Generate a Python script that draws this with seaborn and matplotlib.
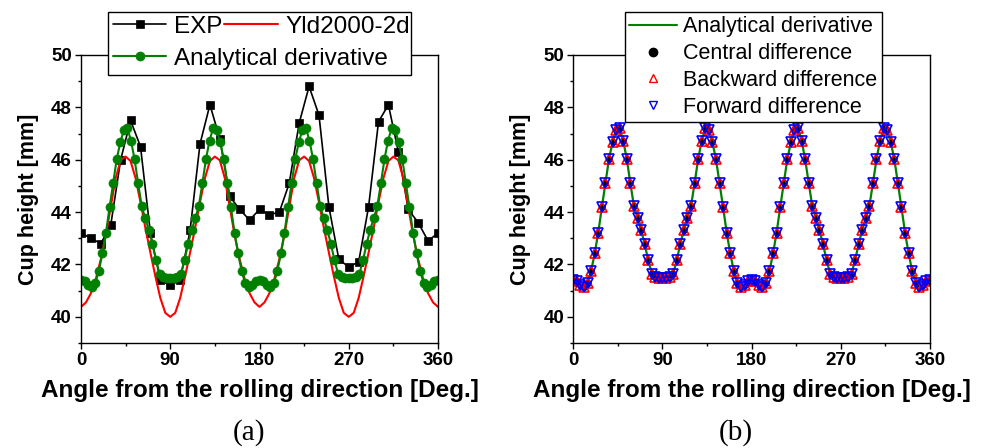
import matplotlib
matplotlib.use('Agg')
import matplotlib.pyplot as plt
import matplotlib.ticker as ticker
from matplotlib.lines import Line2D
from matplotlib.patches import Rectangle
import numpy as np
import seaborn as sns

# experiment, every 10 deg
angle_exp = [0, 10, 20, 30, 40, 50, 60, 70, 80, 90, 100, 110, 120, 130, 140, 150, 160, 170, 180,
             190, 200, 210, 220, 230, 240, 250, 260, 270, 280, 290, 300, 310, 320, 330, 340, 350, 360]
cup_exp = [43.2, 43.0, 42.8, 43.5, 46.0, 47.5, 46.5, 43.2, 41.4, 41.2, 41.4, 43.3, 46.6, 48.1, 46.8, 44.6, 44.1, 43.7, 44.1,
           43.9, 44.0, 45.1, 47.4, 48.8, 47.7, 44.2, 42.2, 41.9, 42.1, 44.2, 47.45, 48.1, 46.3, 44.1, 43.6, 42.9, 43.2]

# Yld2000-2d curve, every 5 deg
angle_yld = list(range(0, 361, 5))
cup_yld = [40.38, 40.55, 40.90, 41.45, 42.20, 43.10, 44.20, 45.30, 45.98, 46.12, 45.95, 45.30, 44.38, 43.38, 42.45, 41.55, 40.72, 40.15, 40.00,
           40.15, 40.72, 41.55, 42.45, 43.38, 44.38, 45.30, 45.95, 46.12, 45.98, 45.30, 44.20, 43.10, 42.20, 41.45, 40.90, 40.55, 40.38,
           40.55, 40.90, 41.45, 42.20, 43.10, 44.20, 45.30, 45.98, 46.12, 45.95, 45.30, 44.38, 43.38, 42.45, 41.55, 40.72, 40.15, 40.00,
           40.15, 40.72, 41.55, 42.45, 43.38, 44.38, 45.30, 45.95, 46.12, 45.98, 45.30, 44.20, 43.10, 42.20, 41.45, 40.90, 40.55, 40.38]

# FE results, 3.6 deg steps
angle_fe = np.linspace(0, 360, 101)
cup_analytical = [41.40, 41.35, 41.22, 41.12, 41.28, 41.75, 42.42, 43.22, 44.18, 45.10, 46.02, 46.66, 47.12, 47.20, 46.73, 46.02, 45.10,
                  44.23, 43.76, 43.32, 42.78, 42.17, 41.65, 41.52, 41.48, 41.48,
                  41.48, 41.52, 41.65, 42.17, 42.78, 43.32, 43.76, 44.23, 45.10, 46.02, 46.73, 47.20, 47.12, 46.66, 46.02, 45.10,
                  44.18, 43.22, 42.42, 41.75, 41.28, 41.12, 41.22, 41.35, 41.40,
                  41.35, 41.22, 41.12, 41.28, 41.75, 42.42, 43.22, 44.18, 45.10, 46.02, 46.66, 47.12, 47.20, 46.73, 46.02, 45.10,
                  44.23, 43.76, 43.32, 42.78, 42.17, 41.65, 41.52, 41.48, 41.48,
                  41.48, 41.52, 41.65, 42.17, 42.78, 43.32, 43.76, 44.23, 45.10, 46.02, 46.73, 47.20, 47.12, 46.66, 46.02, 45.10,
                  44.18, 43.22, 42.42, 41.75, 41.28, 41.12, 41.22, 41.35, 41.40]
# finite differences lie on top of the analytical one
cup_central = list(cup_analytical)
cup_backward = list(cup_analytical)
cup_forward = list(cup_analytical)

sns.set_style('ticks', {'axes.edgecolor': 'black', 'xtick.color': 'black', 'ytick.color': 'black',
                        'text.color': 'black', 'axes.labelcolor': 'black'})
plt.rcParams['font.family'] = ['Liberation Sans', 'DejaVu Sans']

W, H = 986, 448
fig = plt.figure(figsize=(W / 100, H / 100), dpi=100)
ax_a = fig.add_axes([81 / W, 105 / H, 357 / W, 288 / H])
ax_b = fig.add_axes([573.3 / W, 105 / H, 356.7 / W, 288 / H])

# (a)
sns.lineplot(x=angle_exp, y=cup_exp, ax=ax_a, color='black', lw=1.2, marker='s', markersize=5.5,
             markeredgecolor='black', markeredgewidth=0.5)
sns.lineplot(x=angle_yld, y=cup_yld, ax=ax_a, color='red', lw=1.5)
sns.lineplot(x=angle_fe, y=cup_analytical, ax=ax_a, color='green', lw=1.5, marker='o', markersize=6.5,
             markeredgecolor='green', markeredgewidth=0.5)
h_exp, h_yld, h_ana = ax_a.lines[:3]

# (b)
sns.lineplot(x=angle_fe, y=cup_analytical, ax=ax_b, color='green', lw=1.6)
sns.lineplot(x=angle_fe, y=cup_central, ax=ax_b, color='black', linestyle='none', marker='o', markersize=4.5,
             markeredgecolor='black', markeredgewidth=0.5)
sns.lineplot(x=angle_fe, y=cup_backward, ax=ax_b, color='red', linestyle='none', marker='^', markersize=7.5,
             markerfacecolor='none', markeredgecolor='red', markeredgewidth=1.2)
sns.lineplot(x=angle_fe, y=cup_forward, ax=ax_b, color='blue', linestyle='none', marker='v', markersize=7.5,
             markerfacecolor='none', markeredgecolor='blue', markeredgewidth=1.2)

for ax in [ax_a, ax_b]:
    ax.set_xlim(0, 360)
    ax.set_ylim(39, 50)
    ax.set_xticks([0, 90, 180, 270, 360])
    ax.xaxis.set_minor_locator(ticker.MultipleLocator(45))
    ax.yaxis.set_major_locator(ticker.MultipleLocator(2))
    ax.yaxis.set_minor_locator(ticker.MultipleLocator(1))
    ax.tick_params(which='both', direction='out', top=False, right=False, width=1, labelsize=13.5, pad=2.5)
    ax.tick_params(which='major', length=4)
    ax.tick_params(which='minor', length=2.2)
    plt.setp(ax.get_xticklabels() + ax.get_yticklabels(), fontweight='bold')
    for sp in ax.spines.values():
        sp.set_visible(True)
        sp.set_linewidth(1)
        sp.set_color('black')
    ax.set_xlabel('Angle from the rolling direction [Deg.]', fontsize=17.5, fontweight='bold', labelpad=7)
    ax.set_ylabel('Cup height [mm]', fontsize=15.5, fontweight='bold', labelpad=9)

# legend (a): two rows in one box
fig.add_artist(Rectangle((108 / W, 1 - 75 / H), 303 / W, 63 / H, transform=fig.transFigure,
                         facecolor='white', edgecolor='black', lw=1, zorder=4))
fig.legend([h_exp, h_yld], ['EXP', 'Yld2000-2d'], ncol=2, loc='upper left', bbox_to_anchor=(108 / W, 1 - 11 / H),
           frameon=False, fontsize=17.5, handlelength=2.2, handletextpad=0.3, columnspacing=0.1,
           borderpad=0.2, borderaxespad=0)
fig.legend([h_ana], ['Analytical derivative'], loc='upper left', bbox_to_anchor=(108 / W, 1 - 43 / H),
           frameon=False, fontsize=17.5, handlelength=2.2, handletextpad=0.3,
           borderpad=0.2, borderaxespad=0)

# legend (b)
hb = [Line2D([], [], color='green', lw=1.5),
      Line2D([], [], color='black', linestyle='none', marker='o', markersize=6),
      Line2D([], [], color='red', linestyle='none', marker='^', markersize=6, markerfacecolor='none', markeredgewidth=1),
      Line2D([], [], color='blue', linestyle='none', marker='v', markersize=6, markerfacecolor='none', markeredgewidth=1)]
lb = ['Analytical derivative', 'Central difference', 'Backward difference', 'Forward difference']
leg = fig.legend(hb, lb, loc='upper left', bbox_to_anchor=(625 / W, 1 - 12 / H), frameon=True, fancybox=False,
                 edgecolor='black', framealpha=1, fontsize=15.5, handlelength=2.2, handletextpad=0.3,
                 labelspacing=0.27, borderpad=0.2, borderaxespad=0)
leg.get_frame().set_linewidth(1)

fig.text(249.5 / W, 1 - 433 / H, '(a)', ha='center', va='center', family='Liberation Serif', fontsize=21)
fig.text(735.8 / W, 1 - 433 / H, '(b)', ha='center', va='center', family='Liberation Serif', fontsize=21)

fig.savefig('out.png', dpi=100)
